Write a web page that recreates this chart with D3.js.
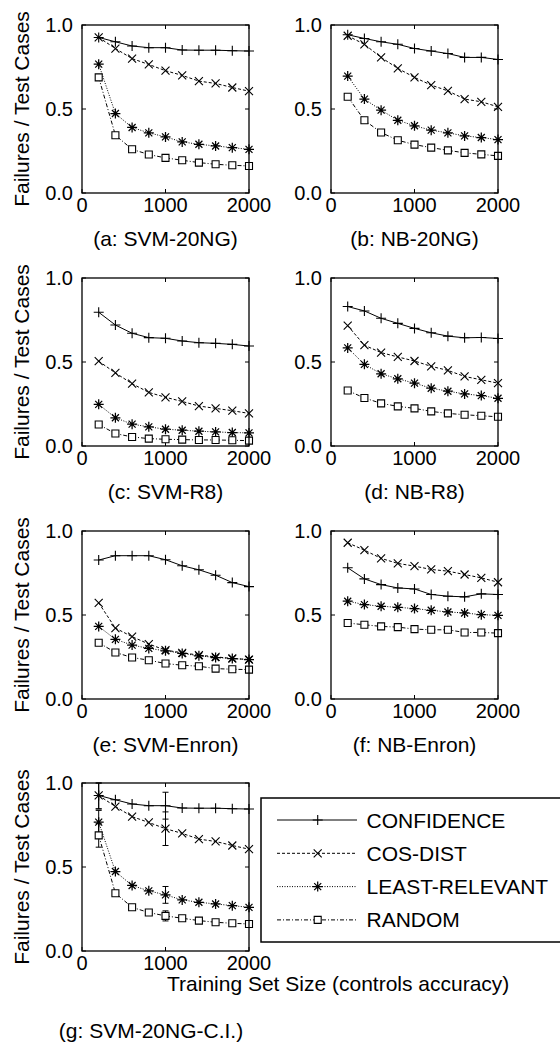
<!DOCTYPE html>
<html>
<head>
<meta charset="utf-8">
<script src="https://cdn.jsdelivr.net/npm/d3@7"></script>
<style>
  body { margin: 0; background: #fff; }
  svg text { font-family: "Liberation Sans", Arial, sans-serif; font-size: 21px; fill: #000; }
  svg text.tick { font-size: 20px; }
</style>
</head>
<body>
<div id="chart"></div>
<script>
// training set sizes (x values)
var sizes = [200, 400, 600, 800, 1000, 1200, 1400, 1600, 1800, 2000];
var xTicks = [0, 1000, 2000];
var yTicks = [0, 0.5, 1];
var methods = ["CONFIDENCE", "COS-DIST", "LEAST-RELEVANT", "RANDOM"];
var captions = ["(a: SVM-20NG)", "(b: NB-20NG)", "(c: SVM-R8)", "(d: NB-R8)",
                "(e: SVM-Enron)", "(f: NB-Enron)", "(g: SVM-20NG-C.I.)"];

// failures / test cases, per panel and method
var svm20ngConf  = [0.926, 0.90, 0.875, 0.865, 0.865, 0.851, 0.850, 0.850, 0.847, 0.845];
var svm20ngCos   = [0.926, 0.86, 0.80, 0.765, 0.728, 0.70, 0.666, 0.652, 0.628, 0.606];
var svm20ngLeast = [0.767, 0.473, 0.39, 0.358, 0.334, 0.304, 0.29, 0.28, 0.27, 0.26];
var svm20ngRand  = [0.688, 0.344, 0.26, 0.229, 0.209, 0.195, 0.181, 0.171, 0.165, 0.161];

var nb20ngConf  = [0.942, 0.92, 0.90, 0.885, 0.86, 0.845, 0.83, 0.807, 0.807, 0.795];
var nb20ngCos   = [0.936, 0.885, 0.807, 0.742, 0.688, 0.642, 0.608, 0.559, 0.543, 0.513];
var nb20ngLeast = [0.696, 0.559, 0.493, 0.433, 0.40, 0.374, 0.358, 0.34, 0.33, 0.318];
var nb20ngRand  = [0.573, 0.433, 0.36, 0.314, 0.288, 0.27, 0.254, 0.239, 0.23, 0.221];

var svmR8Conf  = [0.796, 0.72, 0.671, 0.645, 0.641, 0.625, 0.615, 0.611, 0.605, 0.595];
var svmR8Cos   = [0.505, 0.435, 0.371, 0.319, 0.29, 0.265, 0.238, 0.224, 0.21, 0.194];
var svmR8Least = [0.248, 0.168, 0.13, 0.114, 0.10, 0.094, 0.088, 0.084, 0.08, 0.078];
var svmR8Rand  = [0.128, 0.074, 0.054, 0.044, 0.04, 0.038, 0.036, 0.036, 0.034, 0.032];

var nbR8Conf  = [0.83, 0.804, 0.76, 0.73, 0.70, 0.674, 0.654, 0.644, 0.646, 0.64];
var nbR8Cos   = [0.716, 0.60, 0.556, 0.53, 0.506, 0.474, 0.45, 0.414, 0.394, 0.374];
var nbR8Least = [0.584, 0.486, 0.43, 0.40, 0.374, 0.344, 0.326, 0.31, 0.30, 0.284];
var nbR8Rand  = [0.33, 0.286, 0.254, 0.236, 0.224, 0.206, 0.194, 0.186, 0.18, 0.174];

var svmEnronConf  = [0.827, 0.853, 0.853, 0.853, 0.829, 0.793, 0.769, 0.737, 0.693, 0.669];
var svmEnronCos   = [0.572, 0.422, 0.371, 0.327, 0.291, 0.275, 0.261, 0.251, 0.241, 0.235];
var svmEnronLeast = [0.432, 0.355, 0.321, 0.301, 0.287, 0.271, 0.257, 0.247, 0.241, 0.235];
var svmEnronRand  = [0.335, 0.277, 0.247, 0.231, 0.211, 0.201, 0.195, 0.181, 0.177, 0.175];

var nbEnronConf  = [0.781, 0.715, 0.681, 0.661, 0.655, 0.622, 0.612, 0.608, 0.626, 0.622];
var nbEnronCos   = [0.93, 0.886, 0.837, 0.807, 0.791, 0.771, 0.761, 0.741, 0.721, 0.695];
var nbEnronLeast = [0.582, 0.562, 0.552, 0.546, 0.538, 0.528, 0.518, 0.512, 0.502, 0.498];
var nbEnronRand  = [0.452, 0.442, 0.432, 0.428, 0.416, 0.412, 0.412, 0.396, 0.396, 0.392];

// confidence intervals for panel g (half widths)
var ciSizes = [200, 1000];
var ciConf  = [0.08, 0.08];
var ciCos   = [0.08, 0.10];
var ciLeast = [0.07, 0.05];
var ciRand  = [0.07, 0.03];

var panelSeries = [
  [svm20ngConf, svm20ngCos, svm20ngLeast, svm20ngRand],
  [nb20ngConf, nb20ngCos, nb20ngLeast, nb20ngRand],
  [svmR8Conf, svmR8Cos, svmR8Least, svmR8Rand],
  [nbR8Conf, nbR8Cos, nbR8Least, nbR8Rand],
  [svmEnronConf, svmEnronCos, svmEnronLeast, svmEnronRand],
  [nbEnronConf, nbEnronCos, nbEnronLeast, nbEnronRand],
  [svm20ngConf, svm20ngCos, svm20ngLeast, svm20ngRand]
];
var panelCI = [null, null, null, null, null, null, [ciConf, ciCos, ciLeast, ciRand]];

var dashes = [null, "3,2", "1,1.5", "4,2,1,2"];

var svg = d3.select("#chart").append("svg")
    .attr("width", 560)
    .attr("height", 1045);

var colX = [82, 331];
var rowY = [25, 278, 531, 783];
var pw = 167, ph = 168;

var x = d3.scaleLinear().domain([0, 2000]).range([0, pw]);
var y = d3.scaleLinear().domain([0, 1]).range([ph, 0]);

function marker(g, type) {
    var p = g.append("path")
        .attr("fill", "none")
        .attr("stroke", "#000")
        .attr("stroke-width", 1.1);
    if (type == 0) p.attr("d", "M-5,0H5M0,-5V5");
    if (type == 1) p.attr("d", "M-4,-4L4,4M-4,4L4,-4");
    if (type == 2) p.attr("d", "M-5,0H5M0,-5V5M-3.5,-3.5L3.5,3.5M-3.5,3.5L3.5,-3.5").attr("stroke-width", 1.25);
    if (type == 3) p.attr("d", "M-3.5,-3.5H3.5V3.5H-3.5Z").attr("fill", "#fff");
}

var line = d3.line()
    .x(function (d, i) { return x(sizes[i]); })
    .y(function (d) { return y(d); });

panelSeries.forEach(function (series, p) {
    var col = p % 2, row = Math.floor(p / 2);
    var g = svg.append("g")
        .attr("transform", "translate(" + colX[col] + "," + rowY[row] + ")");

    // inward ticks on all four sides
    var ticks = g.append("g").attr("stroke", "#000").attr("stroke-width", 1);
    xTicks.forEach(function (t) {
        ticks.append("line").attr("x1", x(t)).attr("x2", x(t)).attr("y1", ph).attr("y2", ph - 4);
        ticks.append("line").attr("x1", x(t)).attr("x2", x(t)).attr("y1", 0).attr("y2", 4);
    });
    yTicks.forEach(function (t) {
        ticks.append("line").attr("x1", 0).attr("x2", 4).attr("y1", y(t)).attr("y2", y(t));
        ticks.append("line").attr("x1", pw).attr("x2", pw - 4).attr("y1", y(t)).attr("y2", y(t));
    });

    g.selectAll(".xt").data(xTicks).enter().append("text")
        .attr("class", "tick")
        .attr("x", function (d) { return x(d); })
        .attr("y", ph + 19)
        .attr("text-anchor", "middle")
        .text(function (d) { return d; });

    g.selectAll(".yt").data(yTicks).enter().append("text")
        .attr("class", "tick")
        .attr("x", -9)
        .attr("y", function (d) { return y(d); })
        .attr("dy", "0.36em")
        .attr("text-anchor", "end")
        .text(function (d) { return d3.format(".1f")(d); });

    if (col == 0) {
        g.append("text")
            .attr("transform", "translate(" + (29 - colX[0]) + "," + (ph / 2) + ") rotate(-90)")
            .attr("text-anchor", "middle")
            .text("Failures / Test Cases");
    }

    series.forEach(function (vals, m) {
        g.append("path")
            .attr("d", line(vals))
            .attr("fill", "none")
            .attr("stroke", "#000")
            .attr("stroke-width", 1)
            .attr("stroke-dasharray", dashes[m]);
    });

    var ci = panelCI[p];
    if (ci) {
        ci.forEach(function (half, m) {
            ciSizes.forEach(function (s, k) {
                var v = series[m][sizes.indexOf(s)];
                var lo = Math.max(0, v - half[k]), hi = Math.min(1, v + half[k]);
                var eb = g.append("g").attr("stroke", "#000").attr("stroke-width", 1);
                eb.append("line").attr("x1", x(s)).attr("x2", x(s)).attr("y1", y(lo)).attr("y2", y(hi));
                eb.append("line").attr("x1", x(s) - 3).attr("x2", x(s) + 3).attr("y1", y(lo)).attr("y2", y(lo));
                eb.append("line").attr("x1", x(s) - 3).attr("x2", x(s) + 3).attr("y1", y(hi)).attr("y2", y(hi));
            });
        });
    }

    series.forEach(function (vals, m) {
        vals.forEach(function (v, i) {
            var mg = g.append("g")
                .attr("transform", "translate(" + x(sizes[i]) + "," + y(v) + ")");
            marker(mg, m);
        });
    });

    g.append("rect")
        .attr("width", pw).attr("height", ph)
        .attr("fill", "none").attr("stroke", "#000").attr("stroke-width", 1.3);

    if (p < 6) {
        g.append("text")
            .attr("x", pw / 2)
            .attr("y", ph + 53)
            .attr("text-anchor", "middle")
            .text(captions[p]);
    } else {
        g.append("text")
            .attr("x", 167 - colX[0])
            .attr("y", 991 - rowY[3])
            .text("Training Set Size (controls accuracy)");
        g.append("text")
            .attr("x", 151 - colX[0])
            .attr("y", 1038 - rowY[3])
            .attr("text-anchor", "middle")
            .text(captions[p]);
    }
});

// legend
var legend = svg.append("g").attr("transform", "translate(261,798)");
legend.append("rect")
    .attr("width", 320).attr("height", 144)
    .attr("fill", "#fff").attr("stroke", "#000").attr("stroke-width", 1.5);
methods.forEach(function (name, m) {
    var ly = 22 + m * 33.3;
    legend.append("line")
        .attr("x1", 16).attr("x2", 96).attr("y1", ly).attr("y2", ly)
        .attr("stroke", "#000").attr("stroke-width", 1)
        .attr("stroke-dasharray", dashes[m]);
    var mg = legend.append("g").attr("transform", "translate(56.7," + ly + ")");
    marker(mg, m);
    legend.append("text")
        .attr("x", 105.5).attr("y", ly).attr("dy", "0.36em")
        .text(name);
});
</script>
</body>
</html>
